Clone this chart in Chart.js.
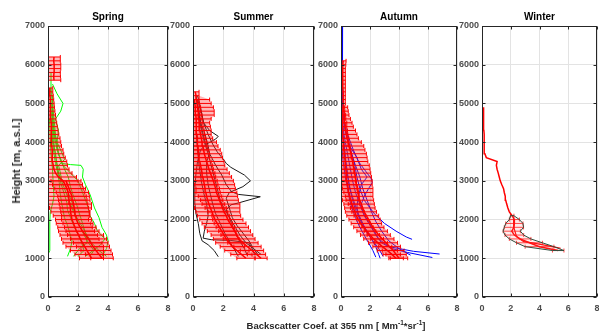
<!DOCTYPE html>
<html>
<head>
<meta charset="utf-8">
<script src="https://cdn.jsdelivr.net/npm/chart.js@4"></script>
<style>
  body { margin:0; background:#fff; width:599px; height:333px; overflow:hidden; position:relative; font-family:"Liberation Sans", Arial, sans-serif; }
  canvas { position:absolute; top:0; }
  #ylab { position:absolute; left:16px; top:161px; transform:translate(-50%,-50%) rotate(-90deg); font-weight:bold; font-size:11px; color:#262626; white-space:nowrap; }
  #xlab { position:absolute; left:336px; top:320px; transform:translateX(-50%); font-weight:bold; font-size:9.5px; color:#262626; white-space:nowrap; }
  sup { font-size:6.5px; vertical-align:4px; line-height:0; }
</style>
</head>
<body>
<canvas id="cSpring"></canvas>
<canvas id="cSummer"></canvas>
<canvas id="cAutumn"></canvas>
<canvas id="cWinter"></canvas>
<div id="ylab">Height [m, a.s.l.]</div>
<div id="xlab">Backscatter Coef. at 355 nm [ Mm<sup>-1</sup>*sr<sup>-1</sup>]</div>
<script>
// ---- tick labels ----
const xTicks = [0, 2, 4, 6, 8];
const yTicks = [0, 1000, 2000, 3000, 4000, 5000, 6000, 7000];

// ---- Spring: mean profiles (100 m steps) ----
const springHeights = [1000,1100,1200,1300,1400,1500,1600,1700,1800,1900,2000,2100,2200,2300,2400,2500,2600,2700,2800,2900,3000,3100,3200,3300,3400,3500,3600,3700,3800,3900,4000,4100,4200,4300,4400,4500,4600,4700,4800,4900,5000,5100,5200,5300,5400,5500,5600,5700,5800,5900,6000,6100,6200];
const springMeanA = [2.9,2.75,2.6,2.45,2.3,2.15,2.05,1.9,1.8,1.7, 1.6,1.55,1.5,1.5,1.45,1.4,1.38,1.35,1.25,1.15, 1.0,0.7,0.5,0.4,0.35,0.3,0.3,0.28,0.27,0.25, 0.25,0.24,0.22,0.2,0.2,0.2,0.18,0.17,0.16,0.15, 0.15,0.14,0.13,0.12,0.12, null, 0.4,0.38,0.4,0.42,0.4,0.38,0.4];
const springErrA = [0.8,0.95,1.1,1.25,1.3,1.25,1.25,1.2,1.15,1.15, 1.1,1.2,1.3,1.4,1.45,1.4,1.38,1.35,1.25,1.15, 1.0,1.2,1.1,1.0,0.95,0.95,0.85,0.77,0.73,0.65, 0.6,0.56,0.5,0.47,0.42,0.38,0.35,0.33,0.3,0.28, 0.26,0.24,0.22,0.2,0.2, null, 0.45,0.45,0.42,0.43,0.45,0.44,0.42];
const springMeanB = [3.6,3.4,3.2,3.0,2.85,2.7,2.5,2.3,2.15,2.0, 1.9,1.85,1.8,1.75,1.7,1.65,1.6,1.5,1.4,1.3, 1.2];
const springErrB = [0.75,0.9,1.0,1.1,1.15,1.2,1.2,1.1,1.05,1.0, 1.0,0.95,0.95,0.95,0.95,0.95,0.95,0.95,0.95,1.0, 1.0];

// ---- Spring: single profiles [x, height] ----
const spG1 = [[3.6,1050],[3.9,1250],[4.0,1450],[3.9,1600],[3.6,1800],[3.4,2050],[3.1,2300],[2.8,2650],[2.5,2900],[2.3,3100],[2.35,3300],[2.2,3400],[1.5,3420],[0.9,3450],[0.7,3700],[0.55,4000],[0.45,4400],[0.35,4800],[0.3,5200]];
const spG2 = [[2.5,1050],[3.0,1200],[3.5,1350],[3.8,1500],[3.3,1700],[3.1,1900],[2.8,2100],[2.6,2400],[2.3,2700],[2.0,3000],[1.5,3200],[1.0,3400],[0.7,3700],[0.6,4000],[0.7,4300],[0.5,4600],[0.85,4800],[1.0,5000],[0.6,5250],[0.3,5500]];
const spG3 = [[1.7,1050],[2.1,1250],[2.6,1400],[2.5,1650],[2.3,1900],[2.1,2150],[1.9,2400],[1.7,2600],[1.5,2850],[1.35,3100],[1.1,3300],[0.85,3550],[0.6,3800],[0.45,4100],[0.35,4500],[0.3,4900],[0.25,5300],[0.2,5800]];
const spG4 = [[2.0,1050],[2.4,1200],[2.2,1450],[1.95,1650],[1.7,1850],[1.5,2050],[1.3,2250],[1.25,2450],[1.05,2700],[0.85,2950],[0.7,3200],[0.6,3450],[0.5,3700],[0.35,4000],[0.3,4400],[0.25,4800]];
const spG5 = [[0.0,1100],[0.12,1200],[0.13,1450],[0.1,1700],[0.13,1950],[0.15,2200],[0.3,2400],[0.4,2600],[0.35,2900],[0.3,3300],[0.2,3700],[0.15,4100],[0.1,4600]];
const spG6 = [[2.8,1050],[3.05,1200],[2.7,1400],[2.4,1600],[2.15,1800],[1.9,2000],[1.75,2200],[1.6,2450],[1.4,2650],[1.2,2850],[0.9,3050],[0.8,3250],[0.7,3400],[1.1,3550],[0.9,3750],[0.6,4000],[0.4,4300],[0.3,4700],[0.3,5100]];
const spG7 = [[3.9,1050],[3.4,1200],[2.9,1400],[2.6,1600],[2.3,1800],[2.0,2000],[1.7,2200],[1.5,2400],[1.3,2600],[1.1,2800],[0.9,3000],[0.7,3200],[0.55,3500],[0.45,3800],[0.4,4100],[0.3,4500],[0.25,5000],[0.2,5400]];
const spG8 = [[1.3,1050],[1.5,1250],[1.6,1450],[1.45,1650],[1.3,1850],[1.1,2050],[1.0,2250],[0.9,2450],[0.8,2700],[0.75,2950],[0.65,3200],[0.5,3450],[0.4,3700],[0.3,4000],[0.25,4500],[0.2,5000]];

// ---- Summer ----
const summerHeights = [1000,1100,1200,1300,1400,1500,1600,1700,1800,1900,2000,2100,2200,2300,2400,2500,2600,2700,2800,2900,3000,3100,3200,3300,3400,3500,3600,3700,3800,3900,4000,4100,4200,4300,4400,4500,4600,4700,4800,4900,5000,5100,5200,5300];
const summerMeanA = [4.5,4.2,3.9,3.6,3.3,3.05,2.9,2.75,2.6,2.45, 2.3,2.2,2.05,1.95,1.85,1.75,1.65,1.55,1.5,1.42, 1.35,1.25,1.15,1.05,0.98,0.9,0.82,0.75,0.7,0.65, 0.6,0.55,0.5,0.45,0.42,0.4,0.38,0.36,0.34,0.3, 0.28,0.25,0.2,0.15];
const summerErrA = [0.4,0.6,0.77,0.9,1.0,1.05,1.05,1.05,1.07,1.05, 1.0,0.95,1.05,1.15,1.25,1.25,1.3,1.35,1.3,1.33, 1.32,1.3,1.25,1.2,1.12,1.15,1.13,1.15,1.1,1.0, 0.95,0.75,0.7,0.75,0.73,0.7,0.82,1.04,1.06,1.05, 0.92,0.85,0.2,0.25];
const summerMeanB = [3.5,3.2,2.9,2.6,2.4,2.2,2.05,1.9,1.75,1.6, 1.45,1.35,1.25,1.15,1.05,0.97,0.9,0.85,0.8,0.75, 0.7,0.65,0.6,0.55,0.5,0.45,0.4,0.38,0.35,0.33, 0.3,0.28,0.26,0.24,0.22,0.2,0.2,0.18,0.16,0.15, 0.12,0.1];
const summerErrB = [0.6,0.7,0.8,0.8,0.9,0.85,0.85,0.95,1.0,1.0, 1.0,1.05,1.05,1.05,1.05,1.0,1.0,0.95,0.95,0.9, 0.9,0.85,0.85,0.8,0.8,0.75,0.7,0.7,0.65,0.6, 0.6,0.55,0.5,0.5,0.45,0.45,0.4,0.4,0.35,0.35, 0.3,0.3];

const suK1 = [[3.6,1060],[3.4,1250],[3.0,1500],[2.7,1750],[2.45,2000],[2.2,2250],[2.5,2380],[3.1,2440],[4.45,2590],[3.0,2650],[2.55,2720],[2.2,2900],[1.9,3150],[1.5,3400],[1.1,3700],[0.8,4000],[0.55,4400],[0.4,4800],[0.25,5100]];
const suK2 = [[4.3,1090],[4.0,1250],[3.7,1450],[3.3,1650],[2.9,1850],[2.6,2050],[2.4,2300],[2.2,2550],[2.4,2700],[3.3,2850],[3.8,3000],[3.4,3150],[2.5,3350],[2.2,3450],[2.0,3560],[1.6,3750],[1.3,3950],[1.0,4200],[0.7,4500],[0.5,4900],[0.3,5200]];
const suK3 = [[1.67,1040],[1.4,1200],[1.0,1350],[0.6,1450],[0.45,1640],[0.35,1900],[0.2,2150],[0.13,2400],[0.12,2800],[0.2,3200],[0.3,3500],[0.5,3800],[0.9,3950],[1.5,4080],[1.67,4150],[1.1,4300],[0.7,4500],[0.45,4900],[0.3,5100]];
const suK4 = [[4.1,1070],[3.9,1250],[3.7,1400],[2.5,1460],[1.2,1480],[0.67,1520],[0.75,1700],[0.9,1900],[1.0,2100],[0.9,2400],[0.7,2700],[0.55,3000],[0.4,3400],[0.3,3800],[0.2,4300]];
const suK5 = [[3.0,1050],[2.7,1250],[2.4,1450],[2.1,1650],[1.8,1900],[1.5,2150],[1.3,2400],[1.15,2650],[1.0,2900],[0.9,3200],[0.9,3500],[1.1,3700],[1.0,3900],[0.8,4200],[0.5,4500],[0.3,4900]];
const suK6 = [[4.5,1100],[4.0,1250],[3.5,1400],[3.1,1600],[2.8,1800],[2.5,2000],[2.1,2250],[1.8,2500],[1.6,2800],[1.4,3100],[1.2,3400],[1.0,3700],[0.75,4000],[0.5,4400],[0.35,4800],[0.2,5200]];

// ---- Autumn ----
const autumnHeights = [1000,1100,1200,1300,1400,1500,1600,1700,1800,1900,2000,2100,2200,2300,2400,2500,2600,2700,2800,2900,3000,3100,3200,3300,3400,3500,3600,3700,3800,3900,4000,4100,4200,4300,4400,4500,4600,4700,4800,4900,5000,5100,5200,5300,5400,5500,5600,5700,5800,5900,6000,6100];
const autumnMeanA = [4.0,3.8,3.6,3.35,3.1,2.85,2.6,2.4,2.2,2.05, 1.9,1.75,1.6,1.5,1.4,1.3,1.25,1.2,1.15,1.1, 1.05,1.0,0.95,0.9,0.85,0.8,0.75,0.7,0.62,0.55, 0.5,0.42,0.38,0.33,0.3,0.27,0.24,0.22,0.2,0.18, 0.15,0.15,0.14,0.14,0.13,0.13,0.12,0.12,0.12,0.12, 0.13,0.15];
const autumnErrA = [0.6,0.7,0.75,0.75,0.8,0.8,0.8,0.8,0.76,0.75, 0.8,0.85,0.85,0.85,0.9,0.95,0.95,1.0,1.05,1.05, 1.1,1.1,1.1,1.1,1.1,1.05,1.05,1.05,1.03,1.02, 0.9,0.78,0.72,0.67,0.55,0.49,0.41,0.33,0.3,0.28, 0.15,0.15,0.16,0.16,0.17,0.17,0.18,0.18,0.18,0.18, 0.2,0.2];
const autumnMeanB = [3.8,3.5,3.2,2.85,2.55,2.25,2.0,1.75,1.55,1.35, 1.2,1.05,0.95,0.85,0.75,0.68,0.6,0.55,0.5,0.45, 0.4,0.38,0.35,0.33,0.3,0.28,0.25,0.22,0.2,0.18, 0.15,0.13,0.12,0.1,0.1,0.1,0.08,0.07,0.06,0.05];
const autumnErrB = [0.5,0.6,0.7,0.65,0.65,0.68,0.65,0.65,0.67,0.65, 0.65,0.65,0.65,0.6,0.55,0.58,0.6,0.6,0.6,0.6, 0.6,0.6,0.6,0.6,0.55,0.55,0.5,0.5,0.45,0.45, 0.4,0.4,0.35,0.35,0.3,0.3,0.25,0.25,0.2,0.2];

const auB1 = [[0.11,7000],[0.1,6000],[0.1,5000],[0.15,4700],[0.3,4400],[0.55,4100],[0.85,3800],[1.2,3500],[1.7,3250],[2.1,3050],[2.15,2950],[1.9,2800],[1.6,2600],[1.4,2400],[1.5,2200],[1.8,2000],[2.2,1750],[2.6,1500],[3.3,1300],[5.0,1180],[6.8,1110]];
const auB2 = [[0.1,4800],[0.3,4300],[0.6,3900],[0.9,3500],[1.1,3100],[1.3,2800],[1.6,2500],[2.0,2300],[2.3,2150],[3.0,1900],[3.8,1700],[4.5,1550],[4.9,1490]];
const auB3 = [[0.1,4600],[0.2,4200],[0.4,3800],[0.6,3400],[0.8,3000],[1.0,2700],[1.3,2400],[1.6,2100],[2.0,1850],[2.4,1600],[2.8,1400],[3.5,1250],[4.6,1150],[6.3,1020]];
const auB4 = [[0.1,4400],[0.2,4000],[0.3,3600],[0.45,3200],[0.6,2800],[0.8,2500],[1.0,2250],[1.4,1950],[1.8,1700],[2.1,1500],[2.4,1300],[2.6,1100],[2.7,1000]];
const auB5 = [[0.1,4200],[0.25,3800],[0.35,3400],[0.5,3000],[0.7,2700],[0.95,2400],[1.2,2150],[1.5,1900],[1.8,1650],[2.2,1450],[2.6,1250],[2.9,1050]];
const auB6 = [[0.2,4500],[0.4,4100],[0.7,3700],[1.0,3400],[1.3,3100],[1.5,2800],[1.8,2500],[2.1,2200],[2.4,1950],[2.8,1700],[3.3,1450],[4.0,1250],[4.8,1080]];
const auB7 = [[0.05,3900],[0.15,3500],[0.3,3100],[0.45,2800],[0.6,2500],[0.75,2300],[1.0,2050],[1.3,1800],[1.6,1600],[1.9,1400],[2.2,1200],[2.4,1030]];
const auB8 = [[0.3,4300],[0.6,3900],[1.1,3600],[1.4,3300],[1.8,3100],[1.4,2900],[1.2,2600],[1.1,2350],[1.2,2100],[1.5,1850],[2.0,1600],[2.5,1400],[3.2,1200],[3.6,1080]];

// ---- Winter ----
const winterHeights = [1200,1300,1400,1500,1600,1700,1800,1900,2000,2100,2200,2300,2400,2500,2600,2700,2800,2900,3000,3100,3200,3300,3400,3500,3600,3700,3800,3900,4000,4100,4200,4300,4400,4500,4600,4700,4800,4900];
const winterMean = [5.3,4.0,3.3,2.65,2.25,2.07,2.22,2.25,2.25,2.1, 1.9,1.8,1.72,1.65,1.62,1.55,1.5,1.38,1.27,1.2, 1.13,1.05,1.0,1.05,0.3,0.2,0.17,0.16,0.15,0.14, 0.14,0.13,0.13,0.12,0.12,0.11,0.1,0.08];
const winterErr = [0.4,1.0,0.9,0.75,0.65,0.6,0.67,0.6,0.35,0.12];
const wiR2 = [[5.47,1260],[4.9,1300],[3.6,1390],[2.9,1430],[2.4,1560],[2.2,1820],[2.2,2070]];

const panels = [
  { id:'cSpring', title:'Spring', left:48, right:167, heights:springHeights,
    means:[[springMeanA, springErrA], [springMeanB, springErrB]],
    lines:[spG1,spG2,spG3,spG4,spG5,spG6,spG7,spG8], lineColor:'#00ff00' },
  { id:'cSummer', title:'Summer', left:193, right:313, heights:summerHeights,
    means:[[summerMeanA, summerErrA], [summerMeanB, summerErrB]],
    lines:[suK1,suK2,suK3,suK4,suK5,suK6], lineColor:'#1a1a1a' },
  { id:'cAutumn', title:'Autumn', left:341, right:456, heights:autumnHeights,
    means:[[autumnMeanA, autumnErrA], [autumnMeanB, autumnErrB]],
    lines:[auB1,auB2,auB3,auB4,auB5,auB6,auB7,auB8], lineColor:'#0000ff' },
  { id:'cWinter', title:'Winter', left:482, right:596, heights:winterHeights,
    means:[[winterMean, winterErr]], lines:[], extraRed:[wiR2],
    bandFill:'rgba(255,120,120,0.15)', bandEdge:'#2f4f3f', bandOrder:0, barColor:'rgba(255,0,0,0.75)' }
];

const Y_AXIS_W = 45, PAD_R = 0, EXTRA_W = 6, TOP = 26, X_AXIS_H = 20, PAD_B = 3;
const tickFont = { family:'"Liberation Sans", Arial, sans-serif', size:9, weight:'bold' };

function meanDataset(heights, mean) {
  return { data: heights.map((h, i) => ({ x: mean[i] == null ? null : mean[i], y: h })),
    borderColor:'#ff0000', borderWidth:1.5, pointRadius:0, order:1 };
}

function barDataset(heights, mean, err, color) {
  const pts = [];
  heights.forEach((h, i) => {
    if (mean[i] == null || err[i] == null) return;
    pts.push({ x: mean[i] - err[i], y: h }, { x: mean[i] + err[i], y: h }, { x: null, y: h });
  });
  return { data: pts, borderColor: color, borderWidth:1, pointStyle:'line', rotation:90,
    pointRadius:2, pointBorderColor: color, pointBorderWidth:1, order:2 };
}

function bandDatasets(heights, mean, err, fillColor, edgeColor, order) {
  const runs = [];
  let cur = [];
  heights.forEach((h, i) => {
    if (mean[i] == null || err[i] == null) { if (cur.length) runs.push(cur); cur = []; return; }
    cur.push(i);
  });
  if (cur.length) runs.push(cur);
  return runs.map(run => {
    const lo = run.map(i => ({ x: mean[i] - err[i], y: heights[i] }));
    const hi = run.slice().reverse().map(i => ({ x: mean[i] + err[i], y: heights[i] }));
    return { data: lo.concat(hi, [lo[0]]), fill:'shape', backgroundColor: fillColor,
      borderColor: edgeColor || 'rgba(0,0,0,0)', borderWidth: edgeColor ? 1 : 0, pointRadius:0, order: order };
  });
}

function profileDataset(pairs, color, width, order) {
  return { data: pairs.map(p => ({ x: p[0], y: p[1] })), borderColor: color, borderWidth: width, pointRadius:0, order: order };
}

// box + inward ticks + panel title
const framePlugin = {
  id: 'frame',
  afterDraw(chart, args, opts) {
    const { ctx, chartArea: a, scales: { x, y } } = chart;
    ctx.save();
    ctx.strokeStyle = '#262626';
    ctx.lineWidth = 1;
    const l = Math.round(a.left) + 0.5, t = Math.round(a.top) + 0.5;
    const r = Math.round(a.right) - 0.5, b = Math.round(a.bottom) - 0.5;
    ctx.strokeRect(l, t, r - l, b - t);
    ctx.beginPath();
    xTicks.forEach(v => {
      const px = Math.round(x.getPixelForValue(v)) + 0.5;
      ctx.moveTo(px, b); ctx.lineTo(px, b - 3);
      ctx.moveTo(px, t); ctx.lineTo(px, t + 3);
    });
    yTicks.forEach(v => {
      const py = Math.round(y.getPixelForValue(v)) + 0.5;
      ctx.moveTo(l, py); ctx.lineTo(l + 3, py);
      ctx.moveTo(r, py); ctx.lineTo(r - 3, py);
    });
    ctx.stroke();
    ctx.fillStyle = '#000';
    ctx.font = 'bold 10px "Liberation Sans", Arial, sans-serif';
    ctx.textAlign = 'center';
    ctx.textBaseline = 'middle';
    ctx.fillText(opts.title, (a.left + a.right) / 2, 17);
    ctx.restore();
  }
};

panels.forEach(p => {
  const canvas = document.getElementById(p.id);
  canvas.width = (p.right - p.left) + Y_AXIS_W + EXTRA_W;
  canvas.height = 297 + X_AXIS_H + PAD_B;
  canvas.style.left = (p.left - Y_AXIS_W) + 'px';

  const datasets = [];
  p.means.forEach(([m, e]) => {
    datasets.push(meanDataset(p.heights, m));
    datasets.push(barDataset(p.heights, m, e, p.barColor || '#ff0000'));
    bandDatasets(p.heights, m, e, p.bandFill || 'rgba(255,40,40,0.33)', p.bandEdge,
      p.bandOrder == null ? 3 : p.bandOrder).forEach(d => datasets.push(d));
  });
  (p.extraRed || []).forEach(r => datasets.push(profileDataset(r, '#ff0000', 1.2, 1)));
  p.lines.forEach(l => datasets.push(profileDataset(l, p.lineColor, 1, 4)));

  new Chart(canvas, {
    type: 'line',
    data: { datasets },
    options: {
      responsive: false,
      animation: false,
      events: [],
      layout: { padding: { left:0, right:PAD_R, top:TOP, bottom:PAD_B } },
      elements: { line: { tension:0 } },
      plugins: { legend: { display:false }, tooltip: { enabled:false }, frame: { title: p.title } },
      scales: {
        x: { type:'linear', min:0, max:8,
          afterBuildTicks: s => { s.ticks = xTicks.map(v => ({ value: v })); },
          ticks: { font: tickFont, color:'#4d4d4d', padding:6, maxRotation:0, callback: v => String(v) },
          grid: { color:'#e3e3e3', drawTicks:false }, border: { display:false },
          afterFit: s => { s.height = X_AXIS_H; s.paddingLeft = 0; s.paddingRight = 0; } },
        y: { type:'linear', min:0, max:7000,
          afterBuildTicks: s => { s.ticks = yTicks.map(v => ({ value: v })); },
          ticks: { font: tickFont, color:'#4d4d4d', padding:3, callback: v => String(v) },
          grid: { color:'#e3e3e3', drawTicks:false }, border: { display:false },
          afterFit: s => { s.width = Y_AXIS_W; s.paddingTop = 0; s.paddingBottom = 0; } }
      }
    },
    plugins: [framePlugin]
  });
});
</script>
</body>
</html>
